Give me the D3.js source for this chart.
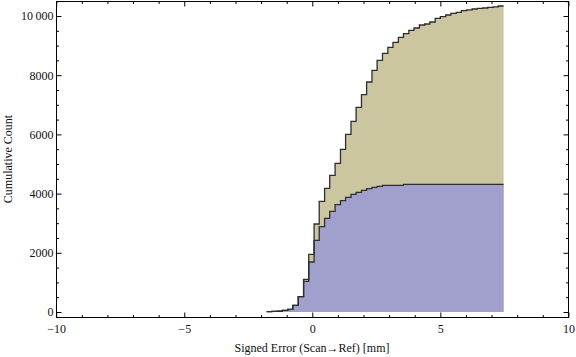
<!DOCTYPE html>
<html>
<head>
<meta charset="utf-8">
<script src="https://cdn.jsdelivr.net/npm/d3@7"></script>
<style>
  html, body { margin: 0; padding: 0; background: #fff; }
  svg { display: block; }
  text { font-family: "Liberation Serif", "DejaVu Serif", serif; fill: #111; }
</style>
</head>
<body>
<svg id="chart" width="576" height="357"></svg>
<script>
// ---- data ----
const binEdges = [-1.78, -1.58, -1.37, -1.17, -0.96, -0.76, -0.55, -0.34, -0.14, 0.07,
  0.27, 0.48, 0.68, 0.89, 1.10, 1.30, 1.51, 1.71, 1.92, 2.12,
  2.33, 2.53, 2.74, 2.95, 3.15, 3.36, 3.56, 3.77, 3.97, 4.18,
  4.39, 4.59, 4.80, 5.00, 5.21, 5.41, 5.62, 5.82, 6.03, 6.24,
  6.44, 6.65, 6.85, 7.06, 7.26, 7.47];
const tanCounts = [15, 20, 25, 57, 91, 226, 517, 1105, 1949, 2973,
  3740, 4179, 4618, 5024, 5497, 6003, 6443, 6916, 7341, 7770,
  8166, 8503, 8740, 8943, 9111, 9280, 9402, 9517, 9595, 9696,
  9730, 9797, 9922, 9976, 10034, 10091, 10125, 10179, 10210, 10236,
  10255, 10270, 10290, 10305, 10338];
const purpleCounts = [15, 20, 25, 57, 91, 226, 517, 1037, 1689, 2422,
  2882, 3166, 3402, 3625, 3765, 3875, 3976, 4044, 4111, 4166,
  4213, 4247, 4280, 4280, 4280, 4280, 4314, 4314, 4314, 4314,
  4314, 4314, 4314, 4314, 4314, 4314, 4314, 4314, 4314, 4314,
  4314, 4314, 4314, 4314, 4314];
const xTickValues = [-10, -5, 0, 5, 10];
const xTickLabels = ["\u221210", "\u22125", "0", "5", "10"];
const yTickValues = [0, 2000, 4000, 6000, 8000, 10000];
const yTickLabels = ["0", "2000", "4000", "6000", "8000", "10\u2009000"];
const xMinorValues = d3.range(-10, 10.5, 1);
const yMinorValues = d3.range(0, 10501, 500);
const xTitle = "Signed Error (Scan\u2192Ref) [mm]";
const yTitle = "Cumulative Count";

// ---- layout ----
const svg = d3.select("#chart");
const frame = { left: 56, right: 568.5, top: 1, bottom: 317 };
const x = d3.scaleLinear().domain([-10, 10]).range([56.2, 568.4]);
const y = d3.scaleLinear().domain([0, 10000]).range([312, 16]);

function stepPoints(counts) {
  const pts = counts.map((c, i) => [binEdges[i], c]);
  pts.push([binEdges[binEdges.length - 1], counts[counts.length - 1]]);
  return pts;
}

const area = d3.area().curve(d3.curveStepAfter)
  .x(d => x(d[0])).y0(y(0)).y1(d => y(d[1]));
const line = d3.line().curve(d3.curveStepAfter)
  .x(d => x(d[0])).y(d => y(d[1]));

const series = [
  { counts: tanCounts, fill: "#cbc6a0" },
  { counts: purpleCounts, fill: "#a19fcc" }
];
series.forEach(s => {
  const pts = stepPoints(s.counts);
  svg.append("path").attr("d", area(pts)).attr("fill", s.fill);
});
series.forEach(s => {
  const pts = stepPoints(s.counts);
  svg.append("path").attr("d", line(pts)).attr("fill", "none")
    .attr("stroke", "#2e2e2e").attr("stroke-width", 1.3);
});

// ---- frame ----
const g = svg.append("g");
g.append("rect")
  .attr("x", frame.left + 0.5).attr("y", frame.top + 0.5)
  .attr("width", frame.right - frame.left - 0.5).attr("height", frame.bottom - frame.top)
  .attr("fill", "none").attr("stroke", "#000").attr("stroke-width", 1);

// ticks with d3 axes (inward)
const majorLen = 5, minorLen = 2.5;
function addAxis(axisGen, transform) {
  const a = g.append("g").attr("transform", transform).call(axisGen);
  a.select(".domain").remove();
  a.selectAll("line").attr("stroke", "#000");
  return a;
}
// bottom
addAxis(d3.axisBottom(x).tickValues(xMinorValues.filter(v => v % 5 !== 0)).tickSize(-minorLen).tickFormat(""), `translate(0,${frame.bottom + 0.5})`);
const xb = addAxis(d3.axisBottom(x).tickValues(xTickValues).tickSize(-majorLen).tickPadding(8)
  .tickFormat((d, i) => xTickLabels[i]), `translate(0,${frame.bottom + 0.5})`);
xb.selectAll("text").attr("font-size", 12).attr("font-family", "Liberation Serif").attr("fill", "#111").attr("dy", "0.71em").attr("y", 7);
// top
addAxis(d3.axisTop(x).tickValues(xMinorValues.filter(v => v % 5 !== 0)).tickSize(-minorLen).tickFormat(""), `translate(0,${frame.top + 0.5})`);
addAxis(d3.axisTop(x).tickValues(xTickValues).tickSize(-majorLen).tickFormat(""), `translate(0,${frame.top + 0.5})`);
// left
addAxis(d3.axisLeft(y).tickValues(yMinorValues.filter(v => v % 2000 !== 0)).tickSize(-minorLen).tickFormat(""), `translate(${frame.left + 0.5},0)`);
const yl = addAxis(d3.axisLeft(y).tickValues(yTickValues).tickSize(-majorLen).tickPadding(4)
  .tickFormat((d, i) => yTickLabels[i]), `translate(${frame.left + 0.5},0)`);
yl.selectAll("text").attr("font-size", 12).attr("font-family", "Liberation Serif").attr("fill", "#111").attr("x", -3);
// right
addAxis(d3.axisRight(y).tickValues(yMinorValues.filter(v => v % 2000 !== 0)).tickSize(-minorLen).tickFormat(""), `translate(${frame.right},0)`);
addAxis(d3.axisRight(y).tickValues(yTickValues).tickSize(-majorLen).tickFormat(""), `translate(${frame.right},0)`);

// ---- titles ----
svg.append("text").attr("x", 312).attr("y", 352).attr("text-anchor", "middle")
  .attr("font-size", 12).text(xTitle);
svg.append("text").attr("transform", "translate(12,159) rotate(-90)")
  .attr("text-anchor", "middle").attr("font-size", 12).text(yTitle);
</script>
</body>
</html>
